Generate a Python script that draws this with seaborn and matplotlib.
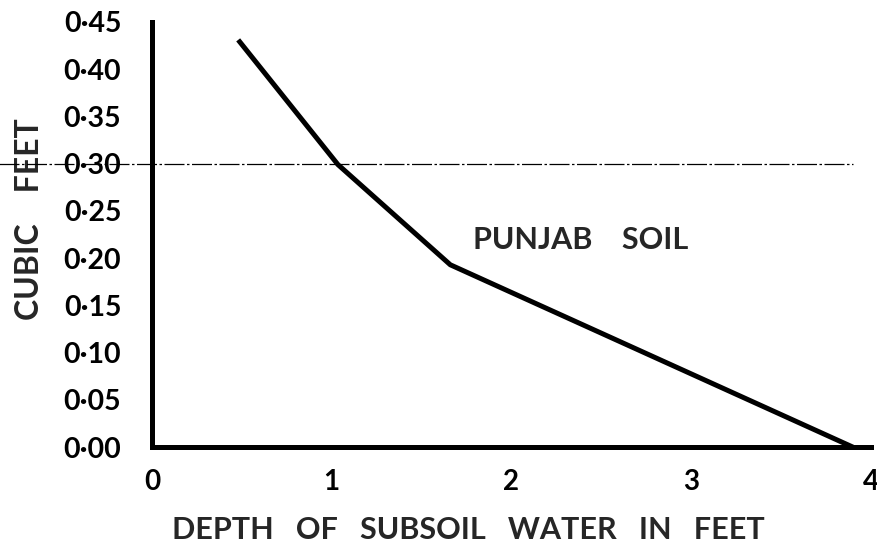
import matplotlib
matplotlib.use("Agg")
import matplotlib.pyplot as plt
import seaborn as sns
import pandas as pd

# Storage against depth of subsoil water
depth_ft = [0.48, 1.035, 1.66, 3.90]
cubic_feet = [0.431, 0.299, 0.193, 0.0]

x_ticks = [0, 1, 2, 3, 4]
x_tick_labels = ["0", "1", "2", "3", "4"]
y_ticks = [0.00, 0.05, 0.10, 0.15, 0.20, 0.25, 0.30, 0.35, 0.40, 0.45]
y_tick_labels = ["0·00", "0·05", "0·10", "0·15", "0·20", "0·25", "0·30", "0·35", "0·40", "0·45"]
reference_level = 0.30

sns.set_style("white")
plt.rcParams["font.family"] = ["Lato", "DejaVu Sans"]
plt.rcParams["font.weight"] = "bold"

df = pd.DataFrame({"depth": depth_ft, "volume": cubic_feet})

fig = plt.figure(figsize=(8.78, 5.48), dpi=100)
ax = fig.add_axes([0.173, 0.184, 0.819, 0.776])

sns.lineplot(data=df, x="depth", y="volume", ax=ax, color="black",
             linewidth=3.6, solid_joinstyle="miter", solid_capstyle="butt")

# thin reference line across the plot at 0.30
ax.axhline(reference_level, xmin=-0.215, xmax=0.975, color="black",
           linewidth=0.9, linestyle=(0, (16, 2, 2, 2)), clip_on=False)

ax.set_xlim(0, 4)
ax.set_ylim(0, 0.45)

sns.despine(ax=ax)
for side in ("left", "bottom"):
    ax.spines[side].set_linewidth(3.6)
    ax.spines[side].set_color("black")

ax.set_xticks(x_ticks)
ax.set_xticklabels(x_tick_labels, fontsize=20, fontweight="bold")
ax.set_yticks(y_ticks)
ax.set_yticklabels(y_tick_labels, fontsize=20.5, fontweight="bold")
ax.tick_params(axis="x", direction="inout", length=13, width=3.2, pad=9, colors="black")
ax.tick_params(axis="y", direction="out", length=4, width=3.2, pad=18, colors="black")

ax.set_xlabel("DEPTH   OF   SUBSOIL   WATER   IN   FEET", fontsize=22,
              fontweight="bold")
ax.xaxis.set_label_coords(0.44, -0.163)
ax.set_ylabel("CUBIC    FEET", fontsize=23, fontweight="bold")
ax.yaxis.set_label_coords(-0.15, 0.537)

ax.text(1.786, 0.219, "PUNJAB    SOIL", fontsize=22, fontweight="bold",
        ha="left", va="center")

fig.savefig("out.png", dpi=100, facecolor="white")
